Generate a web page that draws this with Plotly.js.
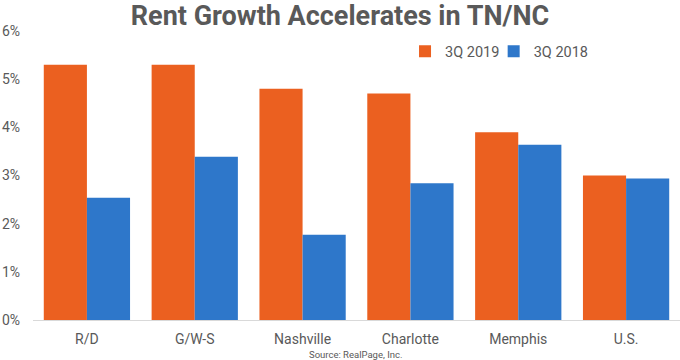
<!DOCTYPE html>
<html>
<head>
<meta charset="utf-8">
<script src="https://cdn.plot.ly/plotly-3.0.1.min.js"></script>
<style>html,body{margin:0;padding:0;background:#fff;}#chart{width:680px;height:360px;}</style>
</head>
<body>
<div id="chart"></div>
<script>
const categories = ["R/D", "G/W-S", "Nashville", "Charlotte", "Memphis", "U.S."];
const growth2019 = [5.3, 5.3, 4.8, 4.7, 3.9, 3.0];
const growth2018 = [2.54, 3.39, 1.77, 2.84, 3.64, 2.94];
const seriesNames = ["3Q 2019", "3Q 2018"];
const yTicks = [0, 1, 2, 3, 4, 5, 6];

const traces = [
  {type: "bar", name: seriesNames[0], x: categories, y: growth2019, marker: {color: "#EB6020"}, hoverinfo: "y", legend: "legend"},
  {type: "bar", name: seriesNames[1], x: categories, y: growth2018, marker: {color: "#2E77CA"}, hoverinfo: "y", legend: "legend2"}
];

const legendStyle = {orientation: "h", y: 0.93, xanchor: "left", yanchor: "middle", font: {size: 14.5, color: "#595959"}, bgcolor: "rgba(0,0,0,0)"};

const layout = {
  width: 680, height: 360,
  margin: {l: 33, r: 0, t: 31, b: 40},
  paper_bgcolor: "#fff", plot_bgcolor: "#fff",
  font: {family: "Roboto, sans-serif", color: "#595959", size: 14},
  title: {text: "<b>Rent Growth Accelerates in TN/NC</b>", x: 0.5, xanchor: "center", y: 0.957, yanchor: "middle", font: {size: 27, color: "#595959", family: "Roboto, sans-serif"}},
  barmode: "group", bargap: 0.2, bargroupgap: 0,
  showlegend: true,
  legend: Object.assign({}, legendStyle, {x: 0.575}),
  legend2: Object.assign({}, legendStyle, {x: 0.712}),
  xaxis: {type: "category", showgrid: false, showline: true, linecolor: "#D9D9D9", linewidth: 1, ticks: "", tickfont: {size: 14, color: "#595959"}, ticklabelstandoff: 6, fixedrange: true},
  yaxis: {range: [0, 6], tickvals: yTicks, ticktext: yTicks.map(v => v + "%"), showgrid: false, zeroline: false, showline: false, ticks: "", tickfont: {size: 14, color: "#595959"}, ticklabelstandoff: 12, fixedrange: true},
  annotations: [{text: "Source: RealPage, Inc.", xref: "paper", yref: "paper", x: 0.498, y: 0, yshift: -34, xanchor: "center", yanchor: "middle", showarrow: false, font: {size: 9.5, color: "#595959"}}]
};

Plotly.newPlot("chart", traces, layout, {displayModeBar: false, staticPlot: true});
</script>
</body>
</html>
